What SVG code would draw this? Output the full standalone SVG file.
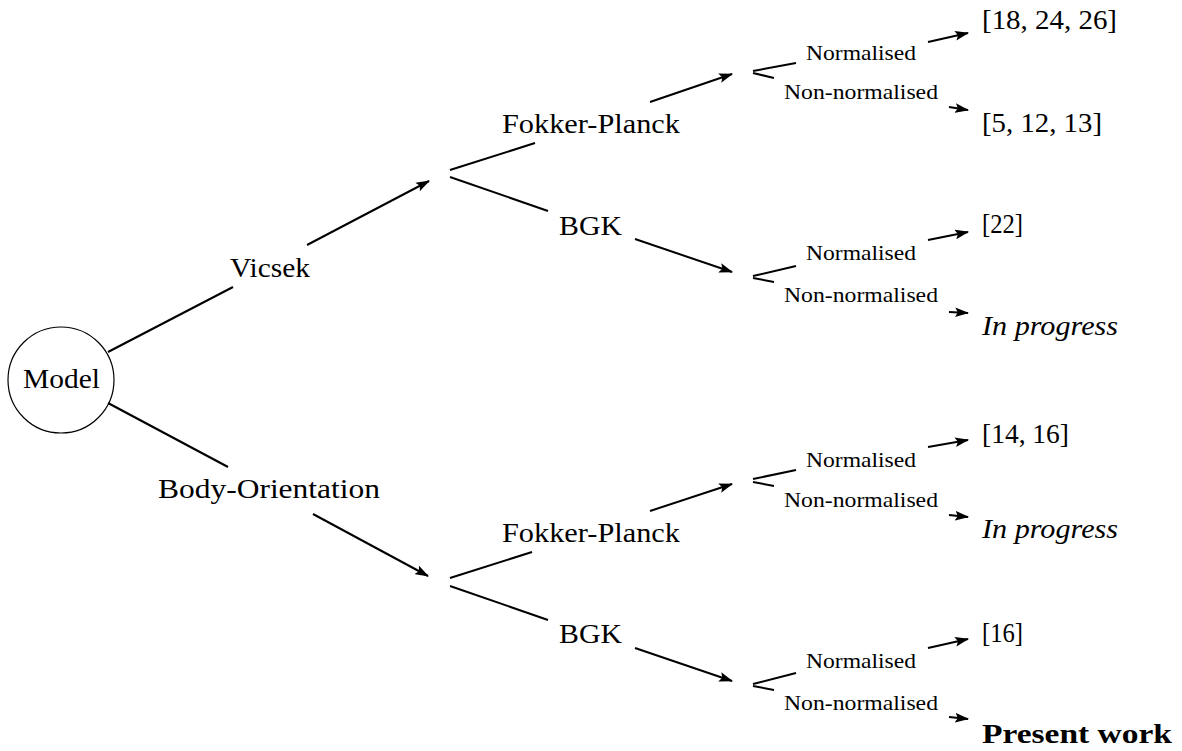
<svg xmlns="http://www.w3.org/2000/svg" width="1182" height="751" viewBox="0 0 1182 751">
<defs>
<marker id="ah" markerUnits="userSpaceOnUse" markerWidth="14" markerHeight="10" viewBox="0 0 13 9" refX="12" refY="4.5" orient="auto">
<path d="M0,0 L13,4.5 L0,9 L2.5,4.5 z" fill="#000"/>
</marker>
<style>
.t{font-family:"Liberation Serif","Times New Roman",serif;fill:#000;text-anchor:middle}
.big{font-size:27px}
.sm{font-size:21px}
.lf{font-family:"Liberation Serif","Times New Roman",serif;fill:#000;font-size:27px}
.ln{stroke:#000;stroke-width:2;fill:none}
.ar{stroke:#000;stroke-width:2;fill:none;marker-end:url(#ah)}
</style>
</defs>
<rect width="1182" height="751" fill="#fff"/>
<g id="connectors">
<path class="ln" d="M108,352 L233,287"/>
<path class="ar" d="M307,245 L429,181"/>
<path class="ln" d="M108,403 L228,467"/>
<path class="ar" d="M313,514 L428,576"/>
<path class="ln" d="M450,170 L535,143"/>
<path class="ln" d="M450,177 L548,211"/>
<path class="ar" d="M650,102 L732,74"/>
<path class="ar" d="M635,239 L732,272"/>
<path class="ln" d="M450,578 L532,552"/>
<path class="ln" d="M450,586 L548,620"/>
<path class="ar" d="M650,511 L732,484"/>
<path class="ar" d="M635,648 L732,681"/>
<path class="ln" d="M753,71 L796,63"/>
<path class="ln" d="M753,73 L774,78"/>
<path class="ar" d="M928,42 L968,33"/>
<path class="ar" d="M949,107 L968,110"/>
<path class="ln" d="M753,276 L796,266"/>
<path class="ln" d="M753,278 L774,282"/>
<path class="ar" d="M928,240 L968,232"/>
<path class="ar" d="M949,312 L968,313"/>
<path class="ln" d="M753,479 L796,470"/>
<path class="ln" d="M753,482 L774,486"/>
<path class="ar" d="M928,447 L968,440"/>
<path class="ar" d="M949,515 L968,517"/>
<path class="ln" d="M753,684 L796,673"/>
<path class="ln" d="M753,686 L774,690"/>
<path class="ar" d="M928,648 L968,639"/>
<path class="ar" d="M949,717 L968,719"/>
</g>
<g id="model">
<circle cx="61" cy="380" r="53" fill="none" stroke="#000" stroke-width="1.2"/>
<text class="t big" x="61.5" y="388" textLength="77" lengthAdjust="spacingAndGlyphs">Model</text>
</g>
<g id="vicsek"><text class="t big" x="270" y="277" textLength="80" lengthAdjust="spacingAndGlyphs">Vicsek</text></g>
<g id="body"><text class="t big" x="269" y="498" textLength="222" lengthAdjust="spacingAndGlyphs">Body-Orientation</text></g>
<g id="fp1"><text class="t big" x="591" y="133" textLength="178" lengthAdjust="spacingAndGlyphs">Fokker-Planck</text></g>
<g id="bgk1"><text class="t big" x="590.5" y="235" textLength="63" lengthAdjust="spacingAndGlyphs">BGK</text></g>
<g id="fp2"><text class="t big" x="591" y="542" textLength="178" lengthAdjust="spacingAndGlyphs">Fokker-Planck</text></g>
<g id="bgk2"><text class="t big" x="590.5" y="643" textLength="63" lengthAdjust="spacingAndGlyphs">BGK</text></g>
<g id="n1"><text class="t sm" x="861" y="60" textLength="110" lengthAdjust="spacingAndGlyphs">Normalised</text></g>
<g id="nn1"><text class="t sm" x="861" y="99" textLength="154" lengthAdjust="spacingAndGlyphs">Non-normalised</text></g>
<g id="n2"><text class="t sm" x="861" y="260" textLength="110" lengthAdjust="spacingAndGlyphs">Normalised</text></g>
<g id="nn2"><text class="t sm" x="861" y="302" textLength="154" lengthAdjust="spacingAndGlyphs">Non-normalised</text></g>
<g id="n3"><text class="t sm" x="861" y="467" textLength="110" lengthAdjust="spacingAndGlyphs">Normalised</text></g>
<g id="nn3"><text class="t sm" x="861" y="507" textLength="154" lengthAdjust="spacingAndGlyphs">Non-normalised</text></g>
<g id="n4"><text class="t sm" x="861" y="668" textLength="110" lengthAdjust="spacingAndGlyphs">Normalised</text></g>
<g id="nn4"><text class="t sm" x="861" y="710" textLength="154" lengthAdjust="spacingAndGlyphs">Non-normalised</text></g>
<g id="l1"><text class="lf" x="982" y="29" textLength="135" lengthAdjust="spacingAndGlyphs">[18, 24, 26]</text></g>
<g id="l2"><text class="lf" x="982" y="132" textLength="120" lengthAdjust="spacingAndGlyphs">[5, 12, 13]</text></g>
<g id="l3"><text class="lf" x="982" y="233" textLength="41" lengthAdjust="spacingAndGlyphs">[22]</text></g>
<g id="l4"><text class="lf" x="982" y="335" font-style="italic" textLength="136" lengthAdjust="spacingAndGlyphs">In progress</text></g>
<g id="l5"><text class="lf" x="982" y="443" textLength="87" lengthAdjust="spacingAndGlyphs">[14, 16]</text></g>
<g id="l6"><text class="lf" x="982" y="538" font-style="italic" textLength="136" lengthAdjust="spacingAndGlyphs">In progress</text></g>
<g id="l7"><text class="lf" x="982" y="642" textLength="41" lengthAdjust="spacingAndGlyphs">[16]</text></g>
<g id="l8"><text class="lf" x="982" y="743" font-weight="bold" textLength="190" lengthAdjust="spacingAndGlyphs">Present work</text></g>
</svg>
